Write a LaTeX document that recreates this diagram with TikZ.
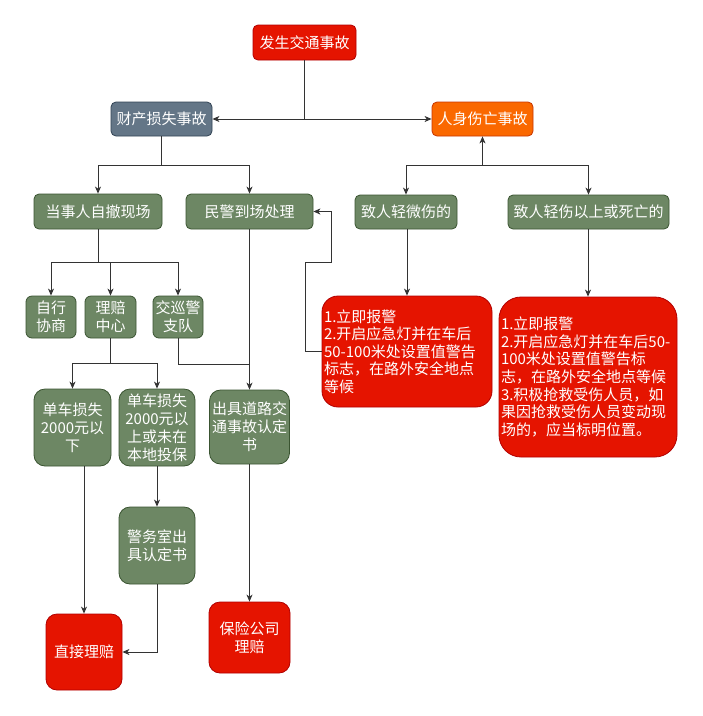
\documentclass[tikz,border=0pt]{standalone}
\usepackage{fontspec}
\setmainfont{Noto Sans CJK SC}
\usetikzlibrary{arrows.meta}
\definecolor{redF}{HTML}{E51400}
\definecolor{redD}{HTML}{B20000}
\definecolor{orgF}{HTML}{FA6800}
\definecolor{orgD}{HTML}{C73500}
\definecolor{slaF}{HTML}{647687}
\definecolor{slaD}{HTML}{314354}
\definecolor{grnF}{HTML}{6D8764}
\definecolor{grnD}{HTML}{3A5431}
\definecolor{lineC}{HTML}{333333}
\tikzset{
  base/.style={rectangle, inner sep=0pt, text=white, align=center, line width=0.8pt,
    font=\fontsize{15}{18}\selectfont},
  redbox/.style={base, fill=redF, draw=redD},
  orgbox/.style={base, fill=orgF, draw=orgD},
  slabox/.style={base, fill=slaF, draw=slaD},
  grnbox/.style={base, fill=grnF, draw=grnD},
  notebox/.style={base, fill=redF, draw=redD, align=left, inner xsep=2pt,
    font=\fontsize{15}{17.6}\selectfont},
  arr/.style={draw=lineC, line width=0.9pt, -{Stealth[length=7pt,width=6pt,inset=2pt]}},
  ln/.style={draw=lineC, line width=0.9pt},
}
\begin{document}
\begin{tikzpicture}[x=1pt,y=-1pt]
\useasboundingbox (0,0) rectangle (703,716);
\fill[white] (0,0) rectangle (703,716);
% nodes
\node[redbox, minimum width=103, minimum height=35, rounded corners=5] (top) at (304.5,42.5) {发生交通事故};
\node[slabox, minimum width=101, minimum height=34, rounded corners=5] (prop) at (161.5,119) {财产损失事故};
\node[orgbox, minimum width=101, minimum height=34, rounded corners=5] (pers) at (482.5,119) {人身伤亡事故};
\node[grnbox, minimum width=128, minimum height=35, rounded corners=5] (self) at (98,211.5) {当事人自撤现场};
\node[grnbox, minimum width=127, minimum height=35, rounded corners=5] (police) at (249.5,211.5) {民警到场处理};
\node[grnbox, minimum width=50, minimum height=42, rounded corners=6] (c1) at (51,317) {自行\\协商};
\node[grnbox, minimum width=51, minimum height=42, rounded corners=6] (c2) at (110.5,317) {理赔\\中心};
\node[grnbox, minimum width=50, minimum height=42, rounded corners=6] (c3) at (178,317) {交巡警\\支队};
\node[grnbox, minimum width=102, minimum height=34, rounded corners=5] (minor) at (406,212) {致人轻微伤的};
\node[grnbox, minimum width=161, minimum height=34, rounded corners=5] (serious) at (588.5,212) {致人轻伤以上或死亡的};
\node[notebox, text width=166, minimum height=111, rounded corners=16] (r1) at (407,351.5)
  {1.立即报警\\2.开启应急灯并在车后\\50-100米处设置值警告\\标志，在路外安全地点\\等候};
\node[notebox, text width=174, minimum height=160, rounded corners=22] (r2) at (588,377)
  {1.立即报警\\2.开启应急灯并在车后50-\\100米处设置值警告标\\志，在路外安全地点等候\\3.积极抢救受伤人员，如\\果因抢救受伤人员变动现\\场的，应当标明位置。};
\node[grnbox, minimum width=77, minimum height=77, rounded corners=11] (d1) at (72.5,427.5) {单车损失\\2000元以\\下};
\node[grnbox, minimum width=76, minimum height=77, rounded corners=11] (d2) at (157,427.5) {单车损失\\2000元以\\上或未在\\本地投保};
\node[grnbox, minimum width=80, minimum height=74, rounded corners=11] (d3) at (249.5,427) {出具道路交\\通事故认定\\书};
\node[grnbox, minimum width=76, minimum height=77, rounded corners=11] (e2) at (157,545.5) {警务室出\\具认定书};
\node[redbox, minimum width=76, minimum height=76, rounded corners=11] (e1) at (84,652) {直接理赔};
\node[redbox, minimum width=81, minimum height=71, rounded corners=11] (f3) at (249.5,637.5) {保险公司\\理赔};
% junctions
\coordinate (j1) at (304.5,119);
\coordinate (j2) at (161.5,165);
\coordinate (j3) at (482.5,165);
\coordinate (j4) at (98,262);
\coordinate (j5) at (110.5,363);
\coordinate (j6) at (249.5,364);
\coordinate (k1) at (305,262);
\coordinate (k2) at (331,262);
% connectors
\draw[ln] (top.south) -- (j1);
\draw[arr] (j1) -- (prop.east);
\draw[arr] (j1) -- (pers.west);
\draw[ln] (prop.south) -- (j2);
\draw[arr] (j2) -| (self.north);
\draw[arr] (j2) -| (police.north);
\draw[arr] (j3) -- (pers.south);
\draw[arr] (j3) -| (minor.north);
\draw[arr] (j3) -| (serious.north);
\draw[ln] (self.south) -- (j4);
\draw[arr] (j4) -| (c1.north);
\draw[arr] (j4) -| (c2.north);
\draw[arr] (j4) -| (c3.north);
\draw[ln] (c2.south) -- (j5);
\draw[arr] (j5) -| (d1.north);
\draw[arr] (j5) -| (d2.north);
\draw[ln] (c3.south) |- (j6);
\draw[arr] (police.south) -- (d3.north);
\draw[arr] (minor.south -| r1.north) -- (r1.north);
\draw[arr] (serious.south -| r2.north) -- (r2.north);
\draw[arr] (r1.west) -| (k1) -- (k2) |- (police.east);
\draw[arr] (e1.north |- d1.south) -- (e1.north);
\draw[arr] (d2.south) -- (e2.north);
\draw[arr] (e2.south) |- (e1.east);
\draw[arr] (d3.south) -- (f3.north);
\end{tikzpicture}
\end{document}
